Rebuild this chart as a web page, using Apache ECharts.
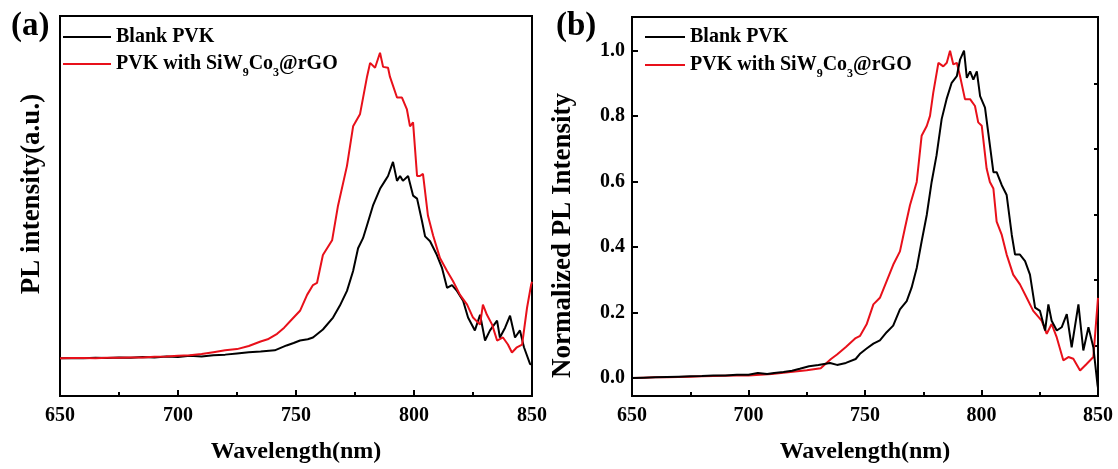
<!DOCTYPE html>
<html>
<head>
<meta charset="utf-8">
<script src="https://cdn.jsdelivr.net/npm/echarts@6/dist/echarts.min.js"></script>
<style>
html, body { margin: 0; padding: 0; background: #fff; }
#chart_1 { width: 1118px; height: 469px; }
</style>
</head>
<body>
<div id="chart_1"></div>
<script>
// (a) raw PL spectra, [wavelength nm, intensity a.u.]
var blankA = [[650,0],[655,0.001],[660,0],[665,0.002],[670,0.001],[675,0.003],[680,0.002],[685,0.004],[690,0.003],[695,0.006],
    [700,0.004],[705,0.008],[710,0.006],[715,0.01],[720,0.012],[725,0.016],[730,0.02],[735,0.022],[741,0.026],[746,0.042],
    [749,0.05],[751.7,0.058],[755,0.062],[757.2,0.068],[761.4,0.094],[765.7,0.133],[768.6,0.172],[771.6,0.22],[774.2,0.285],
    [776.3,0.359],[778.4,0.392],[780.1,0.434],[782.6,0.498],[785.6,0.553],[787.7,0.579],[789,0.595],[791.1,0.641],[792.8,0.579],
    [794.1,0.595],[795.3,0.579],[797.5,0.595],[799.6,0.531],[801.3,0.521],[803.4,0.447],[804.7,0.398],[806.8,0.382],[809.7,0.337],
    [811.9,0.294],[814,0.23],[816.1,0.239],[818.2,0.22],[820.8,0.188],[822.9,0.133],[825.8,0.091],[828,0.142],[830.1,0.058],
    [832.2,0.091],[835.2,0.123],[836.4,0.068],[838.6,0.1],[840.7,0.139],[842.8,0.068],[844.9,0.091],[846.6,0.036],[849.2,-0.019],[850,-0.02]];
var hybridA = [[650,0],[655,0.001],[660,0.001],[665,0],[670,0.002],[675,0.002],[680,0.003],[685,0.003],[690,0.005],[695,0.006],
    [700,0.008],[705,0.01],[710,0.014],[715,0.02],[720,0.026],[725,0.03],[730,0.04],[735,0.055],[738,0.062],[742,0.08],
    [745,0.1],[748,0.125],[751.7,0.155],[754.7,0.207],[757.2,0.239],[758.9,0.246],[761.4,0.337],[765.3,0.385],[767.8,0.498],
    [771.6,0.628],[774.2,0.757],[777.1,0.796],[780.1,0.919],[781.4,0.964],[783.5,0.948],[785.6,0.997],[786.9,0.951],[789,0.948],
    [789.8,0.919],[792.8,0.851],[794.9,0.851],[797,0.812],[798.3,0.757],[799.6,0.77],[801.3,0.595],[802.5,0.595],[803.8,0.602],
    [805.9,0.466],[808.1,0.401],[811,0.327],[814,0.285],[816.5,0.252],[819.5,0.207],[822.5,0.175],[825,0.133],[828,0.11],
    [829.2,0.175],[830.9,0.142],[833.1,0.11],[835.2,0.058],[837.7,0.068],[839.8,0.045],[841.5,0.019],[843.6,0.036],[845.8,0.045],
    [847.9,0.165],[849.6,0.239],[850,0.25]];

// (b) normalized spectra
var blankB = [[650,0],[655,0.001],[660,0.002],[665,0.003],[670,0.004],[675,0.005],[680,0.006],[685,0.008],[690,0.008],[695,0.01],
    [700,0.01],[704,0.015],[708,0.012],[711,0.015],[715,0.018],[718.7,0.022],[722,0.028],[726,0.036],[730,0.04],[735,0.046],
    [738,0.04],[741.8,0.046],[746,0.058],[748,0.075],[750.7,0.09],[753.6,0.105],[756.4,0.115],[759.3,0.14],[762.1,0.16],[765,0.21],
    [767.9,0.235],[770,0.276],[772.2,0.336],[774.3,0.417],[776.5,0.498],[778.6,0.599],[780.7,0.68],[782.9,0.791],[785,0.852],
    [787.2,0.902],[789.4,0.922],[790.8,0.973],[792.5,1.0],[793.7,0.917],[795.1,0.937],[796.5,0.912],[798,0.937],[799.4,0.861],
    [801.5,0.826],[802.9,0.75],[805.1,0.629],[806.5,0.629],[808.7,0.589],[810.8,0.559],[813,0.437],[814.4,0.377],[816.5,0.377],
    [818.7,0.357],[820.8,0.316],[823,0.215],[825.1,0.205],[827.3,0.145],[828.7,0.225],[830.1,0.175],[832.3,0.145],[834.4,0.155],
    [836.6,0.195],[838.7,0.094],[841.6,0.225],[843.7,0.084],[845.9,0.155],[848,0.094],[849.8,-0.022],[850,-0.03]];
var hybridB = [[650,0],[655,0.001],[660,0.002],[665,0.002],[670,0.003],[675,0.004],[680,0.005],[685,0.006],[690,0.007],[695,0.008],
    [700,0.008],[705,0.01],[710,0.012],[715,0.016],[720,0.02],[725,0.024],[731,0.03],[735.4,0.058],[738,0.072],[741.8,0.095],
    [746,0.122],[747.9,0.129],[750.7,0.164],[753.6,0.225],[756.4,0.245],[759.3,0.296],[762.1,0.346],[765,0.387],[767.1,0.457],
    [769.3,0.528],[772.2,0.599],[774.3,0.74],[776.5,0.77],[777.9,0.801],[779.3,0.872],[781.5,0.963],[783.6,0.952],[785.1,0.963],
    [786.5,1.0],[787.9,0.958],[789.4,0.963],[790.8,0.922],[792.9,0.852],[795.1,0.852],[797.2,0.831],[798.6,0.781],[800.1,0.771],
    [802.2,0.64],[803.6,0.599],[805.1,0.579],[806.5,0.478],[808.7,0.437],[810.8,0.377],[813.6,0.316],[816.5,0.286],[819.4,0.245],
    [822.2,0.205],[825.8,0.175],[828,0.135],[830.1,0.165],[832.3,0.124],[835.1,0.054],[837.3,0.064],[839.4,0.059],[842.3,0.023],
    [845.1,0.043],[848,0.064],[850,0.245]];

var names = ['Blank PVK', 'PVK with SiW9Co3@rGO'];
var yMajorB = [0, 0.2, 0.4, 0.6, 0.8, 1.0];
var yMinorB = [0.1, 0.3, 0.5, 0.7, 0.9];

var serif = '"Liberation Serif", "Times New Roman", serif';
var font = {fontFamily: serif, fontWeight: 'bold', color: '#000'};

var myChart = echarts.init(document.getElementById('chart_1'), null, {renderer: 'canvas'});

function xAxisFor(idx) {
    return {
        type: 'value', gridIndex: idx, min: 650, max: 850, interval: 50,
        axisLine: {show: true, onZero: false, lineStyle: {color: '#000', width: 2}},
        axisTick: {show: true, inside: true, length: 6, lineStyle: {color: '#000', width: 2}},
        minorTick: {show: true, splitNumber: 2, length: 4, lineStyle: {color: '#000', width: 2}},
        splitLine: {show: false},
        axisLabel: Object.assign({fontSize: 20, margin: 10}, font),
        name: 'Wavelength(nm)', nameLocation: 'middle', nameGap: 44,
        nameTextStyle: Object.assign({fontSize: 24}, font)
    };
}

function legendFor(left, iconW, gap) {
    return {
        orient: 'vertical', left: left, top: 27, padding: 0,
        icon: 'rect', itemWidth: iconW, itemHeight: 2, itemGap: gap,
        data: names,
        formatter: function (name) {
            if (name.indexOf('SiW') >= 0) {
                return '{m|PVK with SiW}{s|9}{m|Co}{s|3}{m|@rGO}';
            }
            return '{m|' + name + '}';
        },
        textStyle: {
            rich: {
                m: Object.assign({fontSize: 20, lineHeight: 20, verticalAlign: 'top'}, font),
                s: Object.assign({fontSize: 12, lineHeight: 1, padding: [13, 0, 0, 0], verticalAlign: 'top'}, font)
            }
        }
    };
}

function line(name, data, color, x, y) {
    return {
        name: name, type: 'line', xAxisIndex: x, yAxisIndex: y,
        data: data, showSymbol: false, symbol: 'none',
        lineStyle: {color: color, width: 2}, itemStyle: {color: color},
        animation: false
    };
}

var option = {
    backgroundColor: '#fff',
    animation: false,
    grid: [
        {left: 60, top: 16, width: 472, height: 383, show: true, borderColor: '#000', borderWidth: 2},
        {left: 632, top: 17, width: 466, height: 382, show: true, borderColor: '#000', borderWidth: 2}
    ],
    legend: [legendFor(63, 48, 7), legendFor(645, 40, 8)],
    xAxis: [xAxisFor(0), xAxisFor(1)],
    yAxis: [
        {
            type: 'value', gridIndex: 0, min: -0.123, max: 1.117,
            axisLine: {show: true, lineStyle: {color: '#000', width: 2}},
            axisTick: {show: false}, axisLabel: {show: false}, splitLine: {show: false},
            name: 'PL intensity(a.u.)', nameLocation: 'middle', nameGap: 14,
            nameTextStyle: Object.assign({fontSize: 27, padding: [0, 0, 0, 24]}, font)
        },
        {
            type: 'value', gridIndex: 1, min: -0.055, max: 1.103,
            axisLine: {show: true, lineStyle: {color: '#000', width: 2}},
            axisTick: {show: true, inside: true, length: 6, customValues: yMajorB, lineStyle: {color: '#000', width: 2}},
            axisLabel: Object.assign({fontSize: 20, margin: 7, customValues: yMajorB,
                formatter: function (v) { return v.toFixed(1); }}, font),
            splitLine: {show: false},
            name: 'Normalized PL Intensity', nameLocation: 'middle', nameGap: 55,
            nameTextStyle: Object.assign({fontSize: 27, padding: [0, 58, 0, 0]}, font)
        },
        {
            type: 'value', gridIndex: 1, min: -0.055, max: 1.103,
            axisLine: {show: false},
            axisTick: {show: true, inside: true, length: 4, customValues: yMinorB, lineStyle: {color: '#000', width: 2}},
            axisLabel: {show: false}, splitLine: {show: false}
        }
    ],
    graphic: [
        {type: 'text', left: 11, top: 10, style: Object.assign({text: '(a)', fontSize: 33, fill: '#000'}, font)},
        {type: 'text', left: 556, top: 10, style: Object.assign({text: '(b)', fontSize: 33, fill: '#000'}, font)}
    ],
    series: [
        line(names[0], blankA, '#000', 0, 0),
        line(names[1], hybridA, '#e8101a', 0, 0),
        line(names[1], hybridB, '#e8101a', 1, 1),
        line(names[0], blankB, '#000', 1, 1)
    ]
};

myChart.setOption(option);
</script>
</body>
</html>
